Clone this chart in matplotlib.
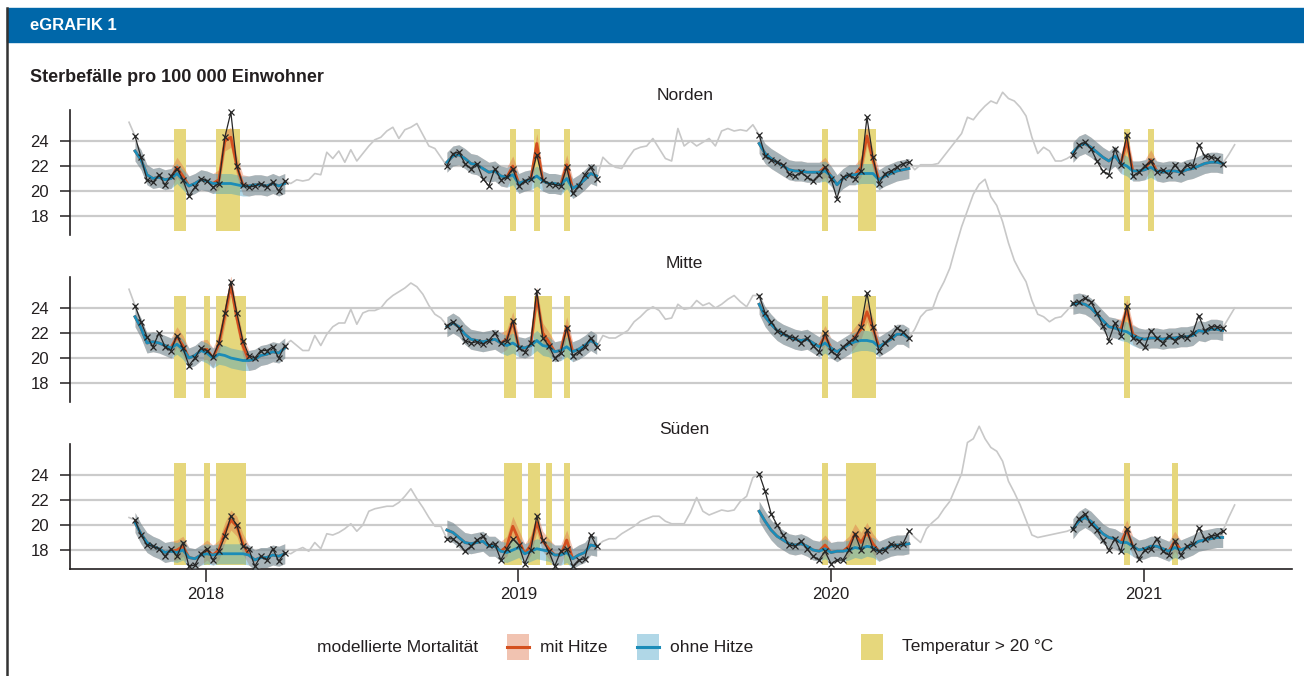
import numpy as np
import matplotlib
matplotlib.use("Agg")
import matplotlib.pyplot as plt
from matplotlib.patches import Rectangle
from matplotlib.lines import Line2D

plt.rcParams['font.family'] = ['Liberation Sans', 'DejaVu Sans']

# first week of each season (decimal years), weekly data
season_start = [2017.773, 2018.771, 2019.770, 2020.774]
week = 7 / 365.25
years = [2018, 2019, 2020, 2021]
yticks = [18, 20, 22, 24]

# ---------------- Norden ----------------
norden_obs = [
    [24.4, 22.7, 20.9, 20.7, 21.3, 20.5, 21.2, 21.8, 20.9, 19.6, 20.3, 21.0, 20.8, 20.3, 20.6, 24.3, 26.3, 22.0, 20.5, 20.3, 20.4, 20.6, 20.3, 20.7, 20.0, 20.8],
    [22.0, 23.0, 23.1, 22.2, 21.8, 22.2, 21.0, 20.4, 21.8, 20.9, 21.1, 21.8, 20.4, 20.8, 21.0, 22.9, 20.9, 20.6, 20.5, 20.4, 21.9, 19.8, 20.4, 21.3, 21.9, 21.0],
    [24.5, 22.8, 22.5, 22.3, 22.1, 21.4, 21.2, 21.5, 21.1, 20.8, 21.3, 21.9, 21.0, 19.4, 21.1, 21.3, 21.0, 21.6, 25.9, 22.7, 20.6, 21.4, 21.6, 21.9, 22.2, 22.3],
    [22.9, 23.7, 23.9, 23.4, 22.4, 21.6, 21.3, 23.4, 22.1, 24.5, 21.2, 21.5, 22.0, 22.4, 21.5, 21.7, 21.3, 22.1, 21.5, 22.1, 22.0, 23.7, 22.8, 22.7, 22.6, 22.2],
]
norden_ohne = [
    [23.2, 22.5, 21.3, 21.0, 21.1, 20.9, 21.0, 21.4, 20.9, 20.4, 20.6, 20.9, 20.8, 20.6, 20.6, 20.6, 20.6, 20.5, 20.4, 20.4, 20.5, 20.5, 20.4, 20.6, 20.4, 20.6],
    [22.3, 22.8, 22.9, 22.6, 22.2, 22.1, 21.8, 21.5, 21.6, 21.2, 21.1, 21.3, 20.6, 20.8, 20.9, 21.2, 20.8, 20.6, 20.6, 20.5, 21.0, 20.2, 20.5, 20.9, 21.4, 21.2],
    [23.8, 23.0, 22.6, 22.3, 22.0, 21.7, 21.6, 21.6, 21.5, 21.5, 21.5, 21.6, 21.2, 20.5, 21.0, 21.3, 21.3, 21.4, 21.4, 21.4, 20.9, 21.2, 21.4, 21.6, 21.7, 21.8],
    [23.1, 23.6, 23.8, 23.5, 23.1, 22.7, 22.4, 22.8, 22.2, 22.0, 21.6, 21.6, 21.7, 21.9, 21.6, 21.5, 21.6, 21.6, 21.5, 21.7, 21.8, 22.0, 22.2, 22.3, 22.3, 22.2],
]
norden_mit = [
    [23.2, 22.5, 21.3, 21.0, 21.1, 20.9, 21.0, 21.9, 21.2, 20.4, 20.6, 20.9, 20.8, 20.6, 20.9, 24.0, 24.3, 22.0, 20.5, 20.4, 20.5, 20.5, 20.4, 20.6, 20.4, 20.6],
    [22.3, 22.8, 22.9, 22.6, 22.2, 22.1, 21.8, 21.5, 21.6, 21.2, 21.1, 22.0, 20.6, 20.8, 20.9, 23.8, 20.8, 20.6, 20.6, 20.5, 22.1, 20.2, 20.5, 20.9, 21.4, 21.2],
    [23.8, 23.0, 22.6, 22.3, 22.0, 21.7, 21.6, 21.6, 21.5, 21.5, 21.5, 21.9, 21.2, 20.5, 21.0, 21.3, 21.3, 21.9, 24.4, 22.5, 20.9, 21.2, 21.4, 21.6, 21.7, 21.8],
    [23.1, 23.6, 23.8, 23.5, 23.1, 22.7, 22.4, 22.8, 22.2, 24.0, 21.6, 21.6, 21.7, 22.5, 21.6, 21.5, 21.6, 21.6, 21.5, 21.7, 21.8, 22.0, 22.2, 22.3, 22.3, 22.2],
]
norden_heat = [[7, 8, 14, 15, 16, 17], [11, 15, 20], [11, 17, 18, 19], [9, 13]]
norden_gray_pre = [25.5]
norden_gray_gaps = [
    [20.6, 20.9, 20.8, 20.9, 21.4, 21.3, 23.1, 22.6, 23.2, 22.3, 23.3, 22.4, 23.0, 23.6, 24.1, 24.3, 24.8, 25.1, 24.2, 24.9, 25.1, 25.4, 24.5, 23.6, 23.4, 22.7],
    [22.7, 22.2, 21.9, 21.8, 22.6, 23.3, 23.5, 23.6, 24.2, 23.4, 22.6, 22.4, 25.0, 23.6, 24.0, 23.6, 23.9, 24.2, 23.6, 24.8, 25.0, 24.8, 24.9, 24.8, 25.3],
    [21.7, 22.1, 22.1, 22.1, 22.2, 22.8, 23.4, 24.0, 24.6, 25.9, 25.7, 26.3, 26.8, 27.2, 27.0, 27.9, 27.4, 27.2, 26.7, 26.0, 24.3, 23.0, 23.5, 23.2, 22.4, 22.4, 22.6],
]
norden_gray_post = [22.9, 23.7]

# ---------------- Mitte ----------------
mitte_obs = [
    [24.2, 22.9, 21.7, 20.9, 22.0, 20.9, 20.6, 21.8, 20.8, 19.4, 20.0, 20.8, 20.6, 20.1, 21.2, 23.6, 26.1, 23.6, 21.4, 20.2, 20.0, 20.6, 20.6, 20.9, 20.0, 21.0],
    [22.6, 22.9, 22.4, 21.4, 21.2, 21.3, 21.1, 21.4, 22.0, 21.2, 21.4, 23.0, 20.8, 20.5, 21.2, 25.4, 21.6, 21.0, 20.0, 20.4, 22.4, 20.2, 20.5, 20.9, 21.6, 20.9],
    [25.0, 23.6, 22.9, 22.2, 22.0, 21.7, 21.6, 21.2, 21.6, 21.0, 20.5, 22.0, 20.6, 20.2, 20.9, 21.3, 21.6, 22.5, 25.2, 22.5, 20.6, 21.2, 21.7, 22.4, 22.1, 21.6],
    [24.4, 24.5, 24.8, 24.5, 23.6, 22.6, 21.4, 22.8, 21.8, 24.2, 21.6, 21.4, 20.9, 22.2, 21.6, 21.2, 21.8, 21.4, 21.8, 21.6, 22.0, 23.4, 22.2, 22.5, 22.5, 22.4],
]
mitte_ohne = [
    [23.3, 22.4, 21.2, 21.3, 21.2, 21.0, 20.8, 21.1, 20.7, 20.0, 20.2, 20.6, 20.4, 20.0, 20.3, 20.2, 20.0, 19.9, 19.8, 19.8, 19.9, 20.2, 20.3, 20.5, 20.4, 20.8],
    [22.5, 22.8, 22.5, 21.9, 21.5, 21.4, 21.3, 21.4, 21.5, 21.2, 21.0, 21.2, 20.9, 20.8, 21.0, 21.4, 21.0, 20.9, 20.5, 20.6, 20.9, 20.5, 20.7, 21.0, 21.4, 21.1],
    [24.3, 23.3, 22.7, 22.2, 21.9, 21.7, 21.5, 21.4, 21.5, 21.2, 20.9, 21.2, 20.8, 20.5, 20.8, 21.1, 21.3, 21.4, 21.4, 21.3, 20.9, 21.2, 21.5, 21.9, 21.9, 21.6],
    [24.3, 24.4, 24.3, 24.0, 23.5, 23.0, 22.5, 22.4, 22.2, 22.1, 21.8, 21.6, 21.5, 21.6, 21.6, 21.5, 21.6, 21.6, 21.7, 21.7, 21.8, 22.2, 22.1, 22.3, 22.3, 22.2],
]
mitte_mit = [
    [23.3, 22.4, 21.2, 21.3, 21.2, 21.0, 20.8, 21.7, 21.0, 20.0, 20.2, 20.6, 20.7, 20.0, 21.1, 23.4, 25.8, 23.2, 21.0, 19.8, 19.9, 20.2, 20.3, 20.5, 20.4, 20.8],
    [22.5, 22.8, 22.5, 21.9, 21.5, 21.4, 21.3, 21.4, 21.5, 21.2, 21.5, 22.9, 20.9, 20.8, 21.0, 24.9, 22.0, 21.3, 20.5, 20.6, 22.5, 20.5, 20.7, 21.0, 21.4, 21.1],
    [24.3, 23.3, 22.7, 22.2, 21.9, 21.7, 21.5, 21.4, 21.5, 21.2, 20.9, 21.8, 20.8, 20.5, 20.8, 21.1, 21.7, 22.3, 23.7, 22.4, 20.9, 21.2, 21.5, 21.9, 21.9, 21.6],
    [24.3, 24.4, 24.3, 24.0, 23.5, 23.0, 22.5, 22.4, 22.3, 23.9, 21.9, 21.6, 21.5, 21.6, 21.6, 21.5, 21.6, 21.6, 21.7, 21.7, 21.8, 22.2, 22.1, 22.3, 22.3, 22.2],
]
mitte_heat = [[7, 8, 12, 14, 15, 16, 17, 18], [10, 11, 15, 16, 17, 20], [11, 16, 17, 18, 19], [9]]
mitte_gray_pre = [25.5]
mitte_gray_gaps = [
    [21.4, 21.0, 20.6, 20.6, 21.8, 21.0, 21.9, 22.5, 22.8, 22.8, 23.9, 22.7, 23.6, 23.8, 23.8, 24.0, 24.6, 25.0, 25.3, 25.6, 26.0, 25.7, 25.1, 24.2, 23.5, 23.2],
    [21.8, 21.6, 21.6, 21.9, 22.2, 22.9, 23.3, 23.8, 24.1, 23.8, 23.1, 23.2, 24.3, 23.9, 24.0, 24.6, 24.2, 24.4, 24.0, 24.3, 24.7, 25.0, 24.5, 24.1, 25.0],
    [22.3, 23.3, 23.8, 23.9, 25.2, 26.1, 27.2, 28.9, 30.5, 31.8, 33.1, 33.9, 34.3, 32.9, 32.2, 30.9, 29.2, 27.8, 26.9, 26.1, 24.6, 23.5, 23.3, 22.9, 23.2, 23.3, 23.8],
]
mitte_gray_post = [23.2, 24.0]

# ---------------- Süden ----------------
sueden_obs = [
    [20.4, 19.2, 18.4, 18.3, 18.1, 17.5, 18.1, 17.5, 18.6, 16.7, 16.8, 17.7, 18.1, 17.2, 17.9, 19.1, 20.7, 20.0, 18.3, 18.1, 16.7, 17.5, 17.2, 18.1, 17.1, 17.8],
    [18.9, 18.9, 18.5, 17.9, 18.3, 18.8, 19.1, 18.4, 18.5, 17.2, 18.1, 18.9, 18.4, 16.9, 18.0, 20.7, 18.8, 17.9, 16.7, 17.9, 18.1, 16.7, 17.2, 17.3, 19.2, 18.3],
    [24.1, 22.7, 20.9, 20.0, 19.2, 18.4, 18.3, 18.7, 18.1, 17.5, 17.2, 17.9, 16.9, 17.2, 17.2, 18.0, 19.3, 18.0, 19.6, 18.1, 17.9, 18.0, 18.5, 18.3, 18.5, 19.5],
    [19.7, 20.5, 20.9, 20.1, 19.6, 18.8, 18.0, 18.9, 17.9, 19.7, 18.3, 17.3, 18.0, 18.1, 18.9, 17.9, 17.6, 18.7, 17.6, 18.3, 18.5, 19.8, 18.9, 19.1, 19.2, 19.5],
]
sueden_ohne = [
    [20.2, 19.3, 18.6, 18.3, 18.1, 17.8, 17.9, 17.8, 18.0, 17.4, 17.3, 17.6, 17.7, 17.6, 17.7, 17.7, 17.7, 17.7, 17.7, 17.6, 17.2, 17.4, 17.4, 17.6, 17.5, 17.7],
    [19.6, 19.4, 19.0, 18.6, 18.5, 18.6, 18.7, 18.3, 18.3, 17.9, 17.8, 18.0, 18.2, 17.7, 17.9, 18.1, 18.0, 17.9, 17.6, 17.6, 17.8, 17.3, 17.6, 17.8, 18.4, 18.3],
    [21.1, 20.3, 19.6, 19.1, 18.8, 18.5, 18.4, 18.5, 18.3, 18.0, 17.9, 18.1, 17.8, 17.9, 17.9, 18.0, 18.2, 18.1, 18.3, 18.2, 17.9, 18.1, 18.3, 18.4, 18.4, 18.5],
    [19.7, 20.3, 20.6, 20.3, 19.8, 19.3, 19.0, 18.9, 18.6, 18.6, 18.3, 18.0, 18.1, 18.3, 18.3, 18.1, 17.9, 18.2, 18.0, 18.2, 18.4, 18.7, 18.8, 18.9, 19.0, 19.0],
]
sueden_mit = [
    [20.2, 19.3, 18.6, 18.3, 18.1, 17.8, 17.9, 18.0, 18.3, 17.4, 17.3, 17.6, 18.0, 17.6, 18.0, 19.4, 20.4, 19.9, 18.5, 17.6, 17.2, 17.4, 17.4, 17.6, 17.5, 17.7],
    [19.6, 19.4, 19.0, 18.6, 18.5, 18.6, 18.7, 18.3, 18.3, 17.9, 18.3, 19.9, 18.8, 17.7, 18.4, 20.2, 18.7, 18.1, 17.6, 17.6, 18.8, 17.3, 17.6, 17.8, 18.4, 18.3],
    [21.1, 20.3, 19.6, 19.1, 18.8, 18.5, 18.4, 18.5, 18.3, 18.0, 17.9, 18.4, 17.8, 17.9, 17.9, 18.3, 19.3, 18.6, 19.4, 18.5, 17.9, 18.1, 18.3, 18.4, 18.4, 18.5],
    [19.7, 20.3, 20.6, 20.3, 19.8, 19.3, 19.0, 18.9, 18.6, 19.6, 18.3, 18.0, 18.1, 18.3, 18.3, 18.1, 17.9, 18.7, 18.0, 18.2, 18.4, 18.7, 18.8, 18.9, 19.0, 19.0],
]
sueden_heat = [[7, 8, 12, 14, 15, 16, 17, 18], [10, 11, 12, 14, 15, 17, 20], [11, 15, 16, 17, 18, 19], [9, 17]]
sueden_gray_pre = [20.6]
sueden_gray_gaps = [
    [17.7, 18.0, 18.2, 17.9, 18.6, 18.1, 19.3, 19.2, 19.4, 19.7, 20.1, 19.5, 20.0, 21.1, 21.3, 21.4, 21.5, 21.5, 21.8, 22.3, 22.9, 22.1, 21.4, 20.6, 19.9, 19.9],
    [18.7, 18.9, 18.9, 19.3, 19.6, 19.9, 20.3, 20.5, 20.7, 20.7, 20.3, 20.1, 20.1, 20.1, 21.0, 22.2, 21.1, 20.8, 21.0, 21.2, 21.1, 21.2, 21.9, 22.3, 23.8],
    [19.0, 18.6, 19.7, 20.2, 20.6, 21.3, 21.9, 23.0, 24.1, 26.6, 26.9, 27.9, 26.9, 26.2, 25.9, 25.1, 23.5, 22.6, 21.6, 20.4, 19.2, 19.0, 19.1, 19.2, 19.3, 19.4, 19.5],
]
sueden_gray_post = [20.6, 21.6]

# colours
c_mit = '#d4501f'
c_ohne = '#1b8cb8'
c_band_mit = '#dc6a3e'
c_band_ohne = '#3a9cc4'
band_alpha = 0.4
c_yellow = '#e6d77c'
c_gray = '#c8c8c8'
c_text = '#231f20'
ci = 0.8           # half width of model band
bar_lo, bar_hi = 16.8, 25.0

W, H = 1304, 676
fig = plt.figure(figsize=(W / 100, H / 100), dpi=100)


def runs(weeks):
    out = []
    for w in weeks:
        if out and w == out[-1][1] + 1:
            out[-1][1] = w
        else:
            out.append([w, w])
    return out


def draw_panel(ax, obs, mit, ohne, heat, g_pre, g_gaps, g_post, name, bottom=False):
    # grey line outside the seasons
    x = season_start[0] - week * np.arange(len(g_pre), 0, -1)
    ax.plot(np.r_[x, season_start[0]], g_pre + [obs[0][0]], color=c_gray, lw=1.2,
            zorder=2, clip_on=False)
    for i, gap in enumerate(g_gaps):
        x0 = season_start[i] + week * (len(obs[i]) - 1)
        xs = np.linspace(x0, season_start[i + 1], len(gap) + 2)
        ax.plot(xs, [obs[i][-1]] + gap + [obs[i + 1][0]], color=c_gray, lw=1.2,
                zorder=2, clip_on=False)
    x0 = season_start[3] + week * (len(obs[3]) - 1)
    ax.plot(x0 + week * np.arange(len(g_post) + 1), [obs[3][-1]] + g_post,
            color=c_gray, lw=1.2, zorder=2, clip_on=False)

    for i in range(4):
        t = season_start[i] + week * np.arange(len(obs[i]))
        for a, b in runs(heat[i]):
            ax.fill_between([season_start[i] + week * (a - 0.5), season_start[i] + week * (b + 0.5)],
                            bar_lo, bar_hi, color=c_yellow, lw=0, zorder=1)
        m = np.array(mit[i])
        o = np.array(ohne[i])
        ax.fill_between(t, m - ci, m + ci, color=c_band_mit, alpha=band_alpha, lw=0, zorder=3)
        ax.fill_between(t, o - ci, o + ci, color=c_band_ohne, alpha=band_alpha, lw=0, zorder=3)
        ax.plot(t, m, color=c_mit, lw=2.0, zorder=4, clip_on=False)
        ax.plot(t, o, color=c_ohne, lw=2.0, zorder=5, clip_on=False)
        ax.plot(t, obs[i], color='#262626', lw=0.9, marker='x', ms=4, mew=0.9,
                zorder=6, clip_on=False)

    ax.set_xlim(2017.565, 2021.475)
    ax.set_ylim(16.5, 26.5)
    ax.set_yticks(yticks)
    ax.grid(axis='y', color='#cbcbcb', lw=1.6)
    ax.set_axisbelow(True)
    for s in ['top', 'right']:
        ax.spines[s].set_visible(False)
    ax.spines['left'].set_color(c_text)
    ax.spines['left'].set_linewidth(1.2)
    ax.tick_params(axis='y', length=7, width=1.1, pad=8, labelsize=12, colors=c_text)
    if bottom:
        ax.spines['bottom'].set_color(c_text)
        ax.spines['bottom'].set_linewidth(1.2)
        ax.set_xticks(years)
        ax.set_xticklabels([str(y) for y in years])
        ax.tick_params(axis='x', length=9, width=1.1, pad=4, labelsize=12, colors=c_text)
    else:
        ax.spines['bottom'].set_visible(False)
        ax.set_xticks([])
    ax.patch.set_alpha(0)
    ax.text(0.503, 1.05, name, transform=ax.transAxes, ha='center', va='bottom',
            fontsize=12.5, color=c_text)


panel_bottom = [234.75, 401.75, 568.75]
panels = [
    (norden_obs, norden_mit, norden_ohne, norden_heat, norden_gray_pre, norden_gray_gaps, norden_gray_post, 'Norden'),
    (mitte_obs, mitte_mit, mitte_ohne, mitte_heat, mitte_gray_pre, mitte_gray_gaps, mitte_gray_post, 'Mitte'),
    (sueden_obs, sueden_mit, sueden_ohne, sueden_heat, sueden_gray_pre, sueden_gray_gaps, sueden_gray_post, 'Süden'),
]
for k, (pb, p) in enumerate(zip(panel_bottom, panels)):
    ax = fig.add_axes([70 / W, 1 - pb / H, (1292 - 70) / W, 125 / H])
    draw_panel(ax, *p, bottom=(k == 2))

# header bar and frame
fig.patches.append(Rectangle((7 / W, 1 - 42 / H), (W - 7) / W, 34 / H,
                             transform=fig.transFigure, color='#0067a9', zorder=0))
fig.lines.append(Line2D([7 / W, 7 / W], [0, 1 - 8 / H], transform=fig.transFigure,
                        color='#333333', lw=1.8))
fig.text(30 / W, 1 - 25.5 / H, 'eGRAFIK 1', color='white', fontsize=12,
         fontweight='bold', va='center')
fig.text(30 / W, 1 - 77 / H, 'Sterbefälle pro 100 000 Einwohner', color=c_text,
         fontsize=13, fontweight='bold', va='center')

# legend
ly = 1 - 647 / H
sw, sh = 22 / W, 26 / H
fig.text(317 / W, ly, 'modellierte Mortalität', fontsize=12.5, color=c_text, va='center')
for x0, band, line, label in [(507, c_band_mit, c_mit, 'mit Hitze'),
                              (637, c_band_ohne, c_ohne, 'ohne Hitze')]:
    fig.patches.append(Rectangle((x0 / W, ly - sh / 2), sw, sh, transform=fig.transFigure,
                                 facecolor=band, alpha=band_alpha, lw=0))
    fig.lines.append(Line2D([x0 / W, x0 / W + sw], [ly, ly], transform=fig.transFigure,
                            color=line, lw=2.2))
    fig.text((x0 + 33) / W, ly, label, fontsize=12.5, color=c_text, va='center')
fig.patches.append(Rectangle((861 / W, ly - sh / 2), sw, sh, transform=fig.transFigure,
                             facecolor=c_yellow, lw=0))
fig.text(902 / W, ly, 'Temperatur > 20 °C', fontsize=12.5, color=c_text, va='center')

fig.savefig('out.png', dpi=100)
